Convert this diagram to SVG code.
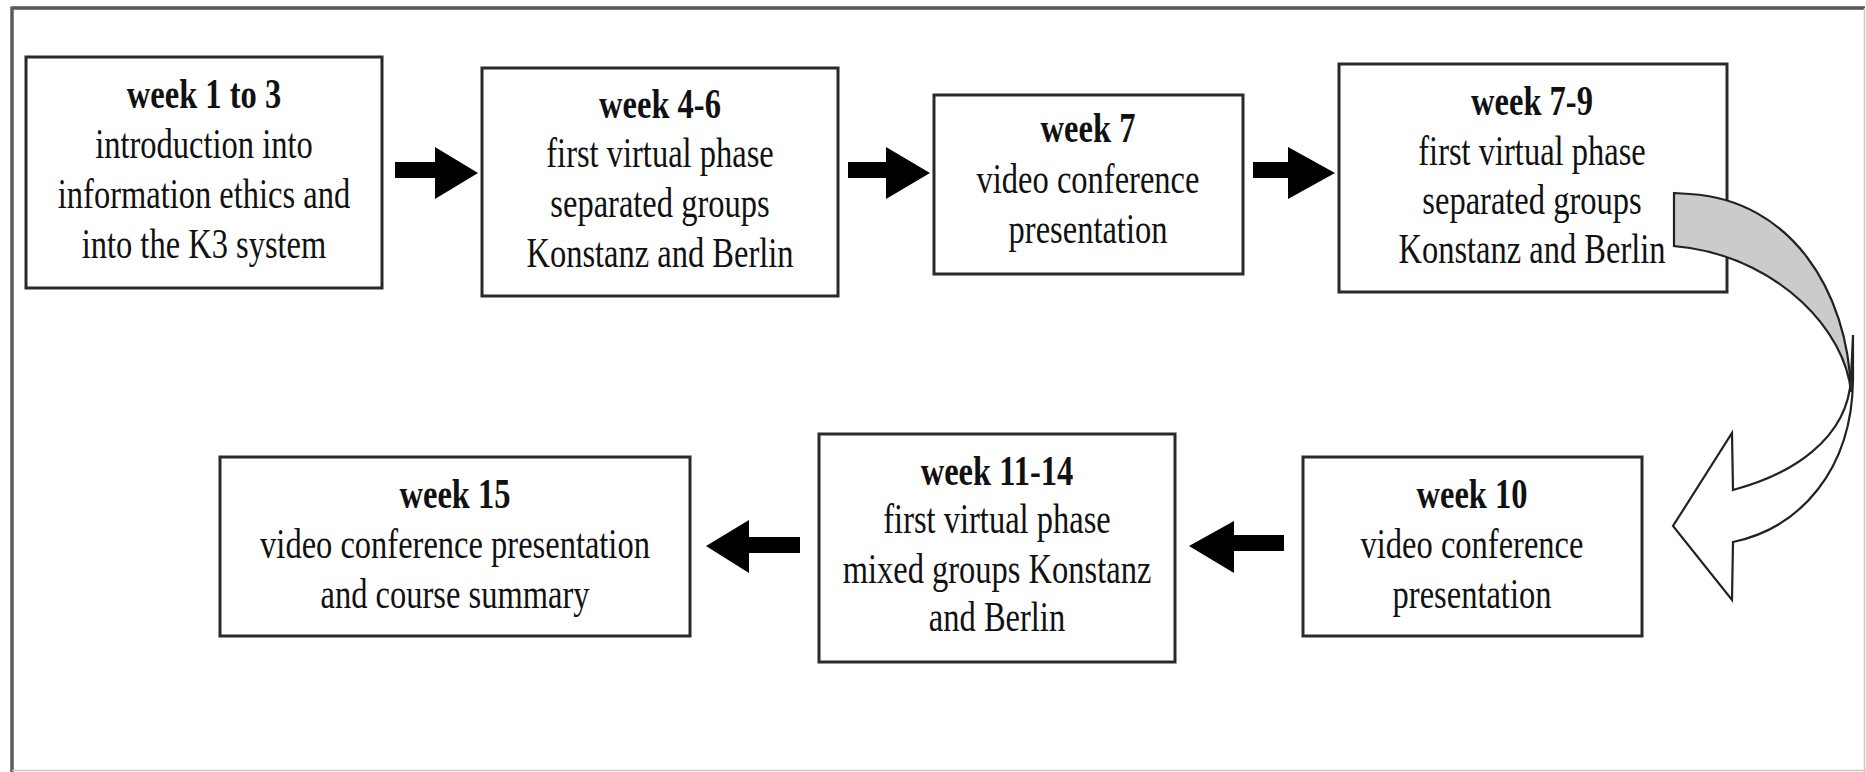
<svg xmlns="http://www.w3.org/2000/svg" width="1866" height="772" viewBox="0 0 1866 772">
<style>
.box{fill:#fff;stroke:#2a2a2a;stroke-width:3}
.t{font-family:"Liberation Serif","Times New Roman",serif;font-size:32.5px;fill:#111;text-anchor:middle}
.b{font-weight:bold}
.arr{fill:#000}
.curve{stroke:#222;stroke-width:2.2;stroke-linejoin:miter}
</style>
<rect x="0" y="0" width="1866" height="772" fill="#fff"/>
<g id="frame">
<line x1="12" y1="8" x2="1865" y2="8" stroke="#555" stroke-width="3.5"/>
<line x1="12" y1="6.5" x2="12" y2="772" stroke="#5a5a5a" stroke-width="3.5"/>
<line x1="1864.5" y1="8" x2="1864.5" y2="772" stroke="#c8c8c8" stroke-width="1.5"/>
<line x1="12" y1="770.5" x2="1866" y2="770.5" stroke="#c8c8c8" stroke-width="1.5"/>
</g>
<g id="n1">
<rect class="box" x="26" y="57" width="356" height="231"/>
<text class="t b" transform="translate(204,108) scale(1,1.3)">week 1 to 3</text>
<text class="t" transform="translate(204,158) scale(1,1.3)">introduction into</text>
<text class="t" transform="translate(204,208) scale(1,1.3)">information ethics and</text>
<text class="t" transform="translate(204,258) scale(1,1.3)">into the K3 system</text>
</g>
<g id="n2">
<rect class="box" x="482" y="68" width="356" height="228"/>
<text class="t b" transform="translate(660,118) scale(1,1.3)">week 4-6</text>
<text class="t" transform="translate(660,167) scale(1,1.3)">first virtual phase</text>
<text class="t" transform="translate(660,217) scale(1,1.3)">separated groups</text>
<text class="t" transform="translate(660,267) scale(1,1.3)">Konstanz and Berlin</text>
</g>
<g id="n3">
<rect class="box" x="934" y="95" width="309" height="179"/>
<text class="t b" transform="translate(1088,142) scale(1,1.3)">week 7</text>
<text class="t" transform="translate(1088,193) scale(1,1.3)">video conference</text>
<text class="t" transform="translate(1088,243) scale(1,1.3)">presentation</text>
</g>
<g id="n4">
<rect class="box" x="1339" y="64" width="388" height="228"/>
<text class="t b" transform="translate(1532,115) scale(1,1.3)">week 7-9</text>
<text class="t" transform="translate(1532,165) scale(1,1.3)">first virtual phase</text>
<text class="t" transform="translate(1532,214) scale(1,1.3)">separated groups</text>
<text class="t" transform="translate(1532,263) scale(1,1.3)">Konstanz and Berlin</text>
</g>
<g id="n5">
<rect class="box" x="1303" y="457" width="339" height="179"/>
<text class="t b" transform="translate(1472,508) scale(1,1.3)">week 10</text>
<text class="t" transform="translate(1472,558) scale(1,1.3)">video conference</text>
<text class="t" transform="translate(1472,608) scale(1,1.3)">presentation</text>
</g>
<g id="n6">
<rect class="box" x="819" y="434" width="356" height="228"/>
<text class="t b" transform="translate(997,485) scale(1,1.3)">week 11-14</text>
<text class="t" transform="translate(997,533) scale(1,1.3)">first virtual phase</text>
<text class="t" transform="translate(997,583) scale(1,1.3)">mixed groups Konstanz</text>
<text class="t" transform="translate(997,631) scale(1,1.3)">and Berlin</text>
</g>
<g id="n7">
<rect class="box" x="220" y="457" width="470" height="179"/>
<text class="t b" transform="translate(455,508) scale(1,1.3)">week 15</text>
<text class="t" transform="translate(455,558) scale(1,1.3)">video conference presentation</text>
<text class="t" transform="translate(455,608) scale(1,1.3)">and course summary</text>
</g>
<g id="connectors">
<polygon class="arr" points="395,162 435,162 435,147 478,173 435,199 435,178 395,178"/>
<polygon class="arr" points="848,162 886,162 886,147 930,173 886,199 886,178 848,178"/>
<polygon class="arr" points="1253,162 1288,162 1288,147 1335,173 1288,199 1288,178 1253,178"/>
<polygon class="arr" points="1284,535 1234,535 1234,521 1189,546 1234,573 1234,551 1284,551"/>
<polygon class="arr" points="800,537 749,537 749,520 706,546 749,573 749,553 800,553"/>
<path class="curve" fill="#fff" d="M1851,378 C1848,440 1790,475 1733,490 L1732,433 L1673,526 L1732,600 L1733,542 C1800,528 1852,470 1853,380 L1853,335 Z"/>
<path class="curve" fill="#cbcbcb" d="M1674,193 L1690,194 C1790,200 1848,290 1851,392 C1845,330 1780,262 1690,248 L1674,246 Z"/>
</g>
</svg>
